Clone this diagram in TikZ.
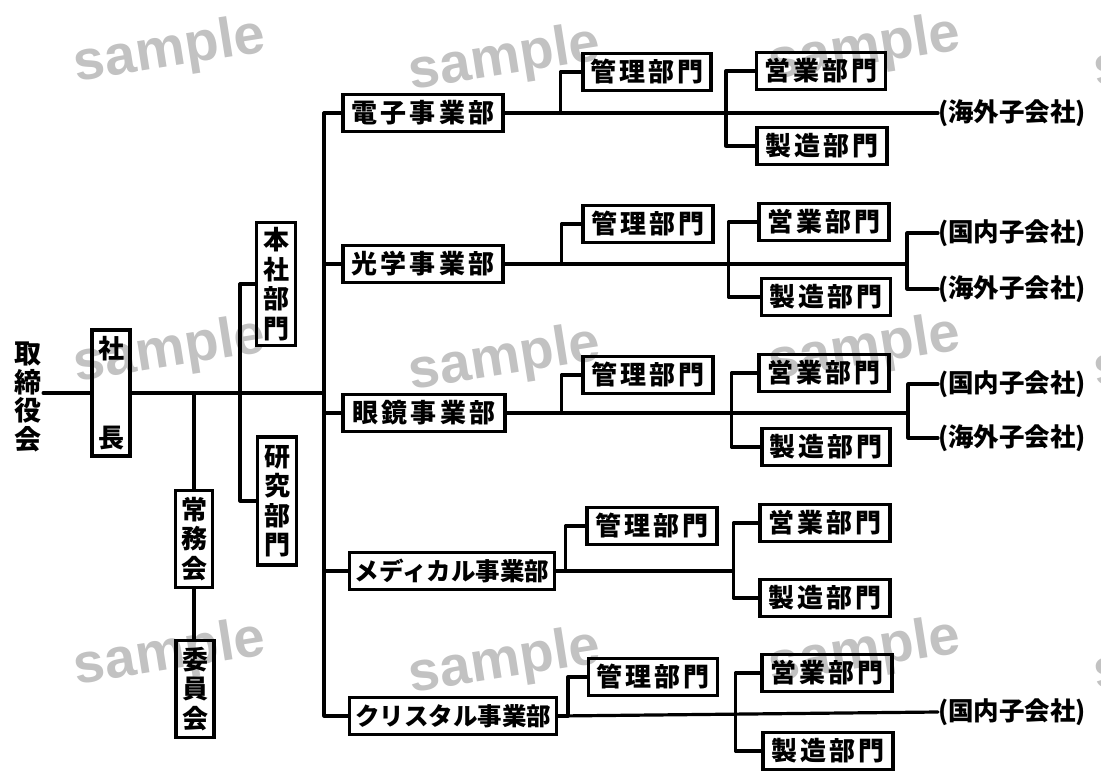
\documentclass[tikz,border=0pt]{standalone}
\usepackage{fontspec}
\newfontfamily\jp{Noto Sans CJK JP}[LetterSpace=12]
\newfontfamily\jpn{Noto Sans CJK JP}
\newfontfamily\wm{Liberation Sans}
\begin{document}
\begin{tikzpicture}[x=1pt,y=-1pt,
  conn/.style={line width=3.2pt,line cap=round,line join=round},
  hbox/.style={draw,line width=3.2pt,inner sep=0pt,minimum height=37pt,
     font={\jp\bfseries\fontsize{26}{30}\selectfont}},
  kbox/.style={hbox,font={\jpn\bfseries\fontsize{24.5}{28}\selectfont}},
  vbox/.style={draw,line width=3.2pt,inner sep=0pt,align=center,
     font={\jpn\bfseries\fontsize{26}{29.5}\selectfont}},
  subco/.style={anchor=west,inner sep=0pt,font={\jpn\bfseries\fontsize{25.5}{27}\selectfont}},
  wmk/.style={text=black!24,rotate=9,font={\wm\bfseries\fontsize{56}{56}\selectfont}}]
\useasboundingbox (0,0) rectangle (1101,771);
% watermarks
\begin{scope}
\clip (0,0) rectangle (1101,771);
\foreach \y in {52,352,655}{
  \node[wmk] at (170,\y) {sample};
  \node[wmk] at (505,\y+8) {sample};
  \node[wmk] at (865,\y-2) {sample};
  \node[wmk] at (1190,\y+5) {sample};
}
\end{scope}
% left part
\node[vbox,draw=none,font={\jpn\bfseries\fontsize{27}{28.5}\selectfont}] (tori) at (28,397) {取\\締\\役\\会};
\node[vbox,minimum width=38pt,minimum height=126pt] (shacho) at (111,393) {社\\[60pt]長};
\node[vbox,minimum width=39pt,minimum height=123pt] (honsha) at (276,284) {本\\社\\部\\門};
\node[vbox,minimum width=39pt,minimum height=128pt] (kenkyu) at (277,501) {研\\究\\部\\門};
\node[vbox,minimum width=37pt,minimum height=97pt] (jomu) at (194,539) {常\\務\\会};
\node[vbox,minimum width=38pt,minimum height=97pt] (iin) at (195,689) {委\\員\\会};
\coordinate (tr) at (324,0);
\coordinate (hv) at (240,0);
% divisions
\node[hbox,minimum width=160pt] (d1) at (423,113) {電子事業部};
\node[hbox,minimum width=160pt] (d2) at (423,264) {光学事業部};
\node[hbox,minimum width=162pt] (d3) at (424,413) {眼鏡事業部};
\node[kbox,minimum width=205pt] (d4) at (452,571) {メディカル事業部};
\node[kbox,minimum width=207pt] (d5) at (453,716) {クリスタル事業部};
% management
\node[hbox,minimum width=128pt] (k1) at (647,72) {管理部門};
\node[hbox,minimum width=130pt] (k2) at (648,224) {管理部門};
\node[hbox,minimum width=130pt] (k3) at (648,375) {管理部門};
\node[hbox,minimum width=130pt] (k4) at (652,526) {管理部門};
\node[hbox,minimum width=129pt] (k5) at (653,677) {管理部門};
% sales / manufacturing
\node[hbox,minimum width=129pt] (e1) at (821,71) {営業部門};
\node[hbox,minimum width=130pt] (s1) at (822,146) {製造部門};
\node[hbox,minimum width=130pt] (e2) at (824,222) {営業部門};
\node[hbox,minimum width=129pt] (s2) at (826,297) {製造部門};
\node[hbox,minimum width=130pt] (e3) at (824,373) {営業部門};
\node[hbox,minimum width=128pt] (s3) at (826,447) {製造部門};
\node[hbox,minimum width=130pt] (e4) at (825,523) {営業部門};
\node[hbox,minimum width=130pt] (s4) at (825,598) {製造部門};
\node[hbox,minimum width=130pt] (e5) at (827,673) {営業部門};
\node[hbox,minimum width=130pt] (s5) at (828,751) {製造部門};
% subsidiaries
\node[subco] (o1) at (938,113) {(海外子会社)};
\node[subco] (n2) at (938,233) {(国内子会社)};
\node[subco] (o2) at (938,289) {(海外子会社)};
\node[subco] (n3) at (938,384) {(国内子会社)};
\node[subco] (o3) at (938,438) {(海外子会社)};
\node[subco] (n5) at (938,712) {(国内子会社)};
\coordinate (f2) at (907,0);
\coordinate (f3) at (908,0);
% connectors left
\draw[conn] (tori.east |- shacho.west) -- (shacho.west);
\draw[conn] (shacho.east) -- (shacho.east -| tr);
\draw[conn] (honsha.west) -- (honsha.west -| hv) -- (kenkyu.west -| hv) -- (kenkyu.west);
\draw[conn] (jomu.north |- shacho.east) -- (jomu.north);
\draw[conn] (jomu.south) -- (jomu.south |- iin.north);
% trunk
\draw[conn] (d1.west) -- (d1.west -| tr) -- (d5.west -| tr) -- (d5.west);
\draw[conn] (d2.west -| tr) -- (d2.west);
\draw[conn] (d3.west -| tr) -- (d3.west);
\draw[conn] (d4.west -| tr) -- (d4.west);
% division 1
\draw[conn] (d1.east) -- (o1.west);
\draw[conn] (k1.west) -- ++(-21,0) |- (d1.east);
\draw[conn] (e1.west) -- ++(-29,0) coordinate (v1) -- (v1 |- s1.west) -- (s1.west);
% division 2
\draw[conn] (d2.east) -- (d2.east -| f2);
\draw[conn] (k2.west) -- ++(-20,0) |- (d2.east);
\draw[conn] (e2.west) -- ++(-29,0) coordinate (v2) -- (v2 |- s2.west) -- (s2.west);
\draw[conn] (n2.west) -- (n2.west -| f2) -- (o2.west -| f2) -- (o2.west);
% division 3
\draw[conn] (d3.east) -- (d3.east -| f3);
\draw[conn] (k3.west) -- ++(-20,0) |- (d3.east);
\draw[conn] (e3.west) -- ++(-26,0) coordinate (v3) -- (v3 |- s3.west) -- (s3.west);
\draw[conn] (n3.west) -- (n3.west -| f3) -- (o3.west -| f3) -- (o3.west);
% division 4
\draw[conn] (k4.west) -- ++(-20,0) |- (d4.east);
\draw[conn] (e4.west) -- ++(-25,0) coordinate (v4) -- (v4 |- s4.west) -- (s4.west);
\draw[conn] (d4.east) -- (d4.east -| v4);
% division 5
\draw[conn] (d5.east) -- (n5.west);
\draw[conn] (k5.west) -- ++(-19,0) |- (d5.east);
\draw[conn] (e5.west) -- ++(-25,0) coordinate (v5) -- (v5 |- s5.west) -- (s5.west);
\end{tikzpicture}
\end{document}
